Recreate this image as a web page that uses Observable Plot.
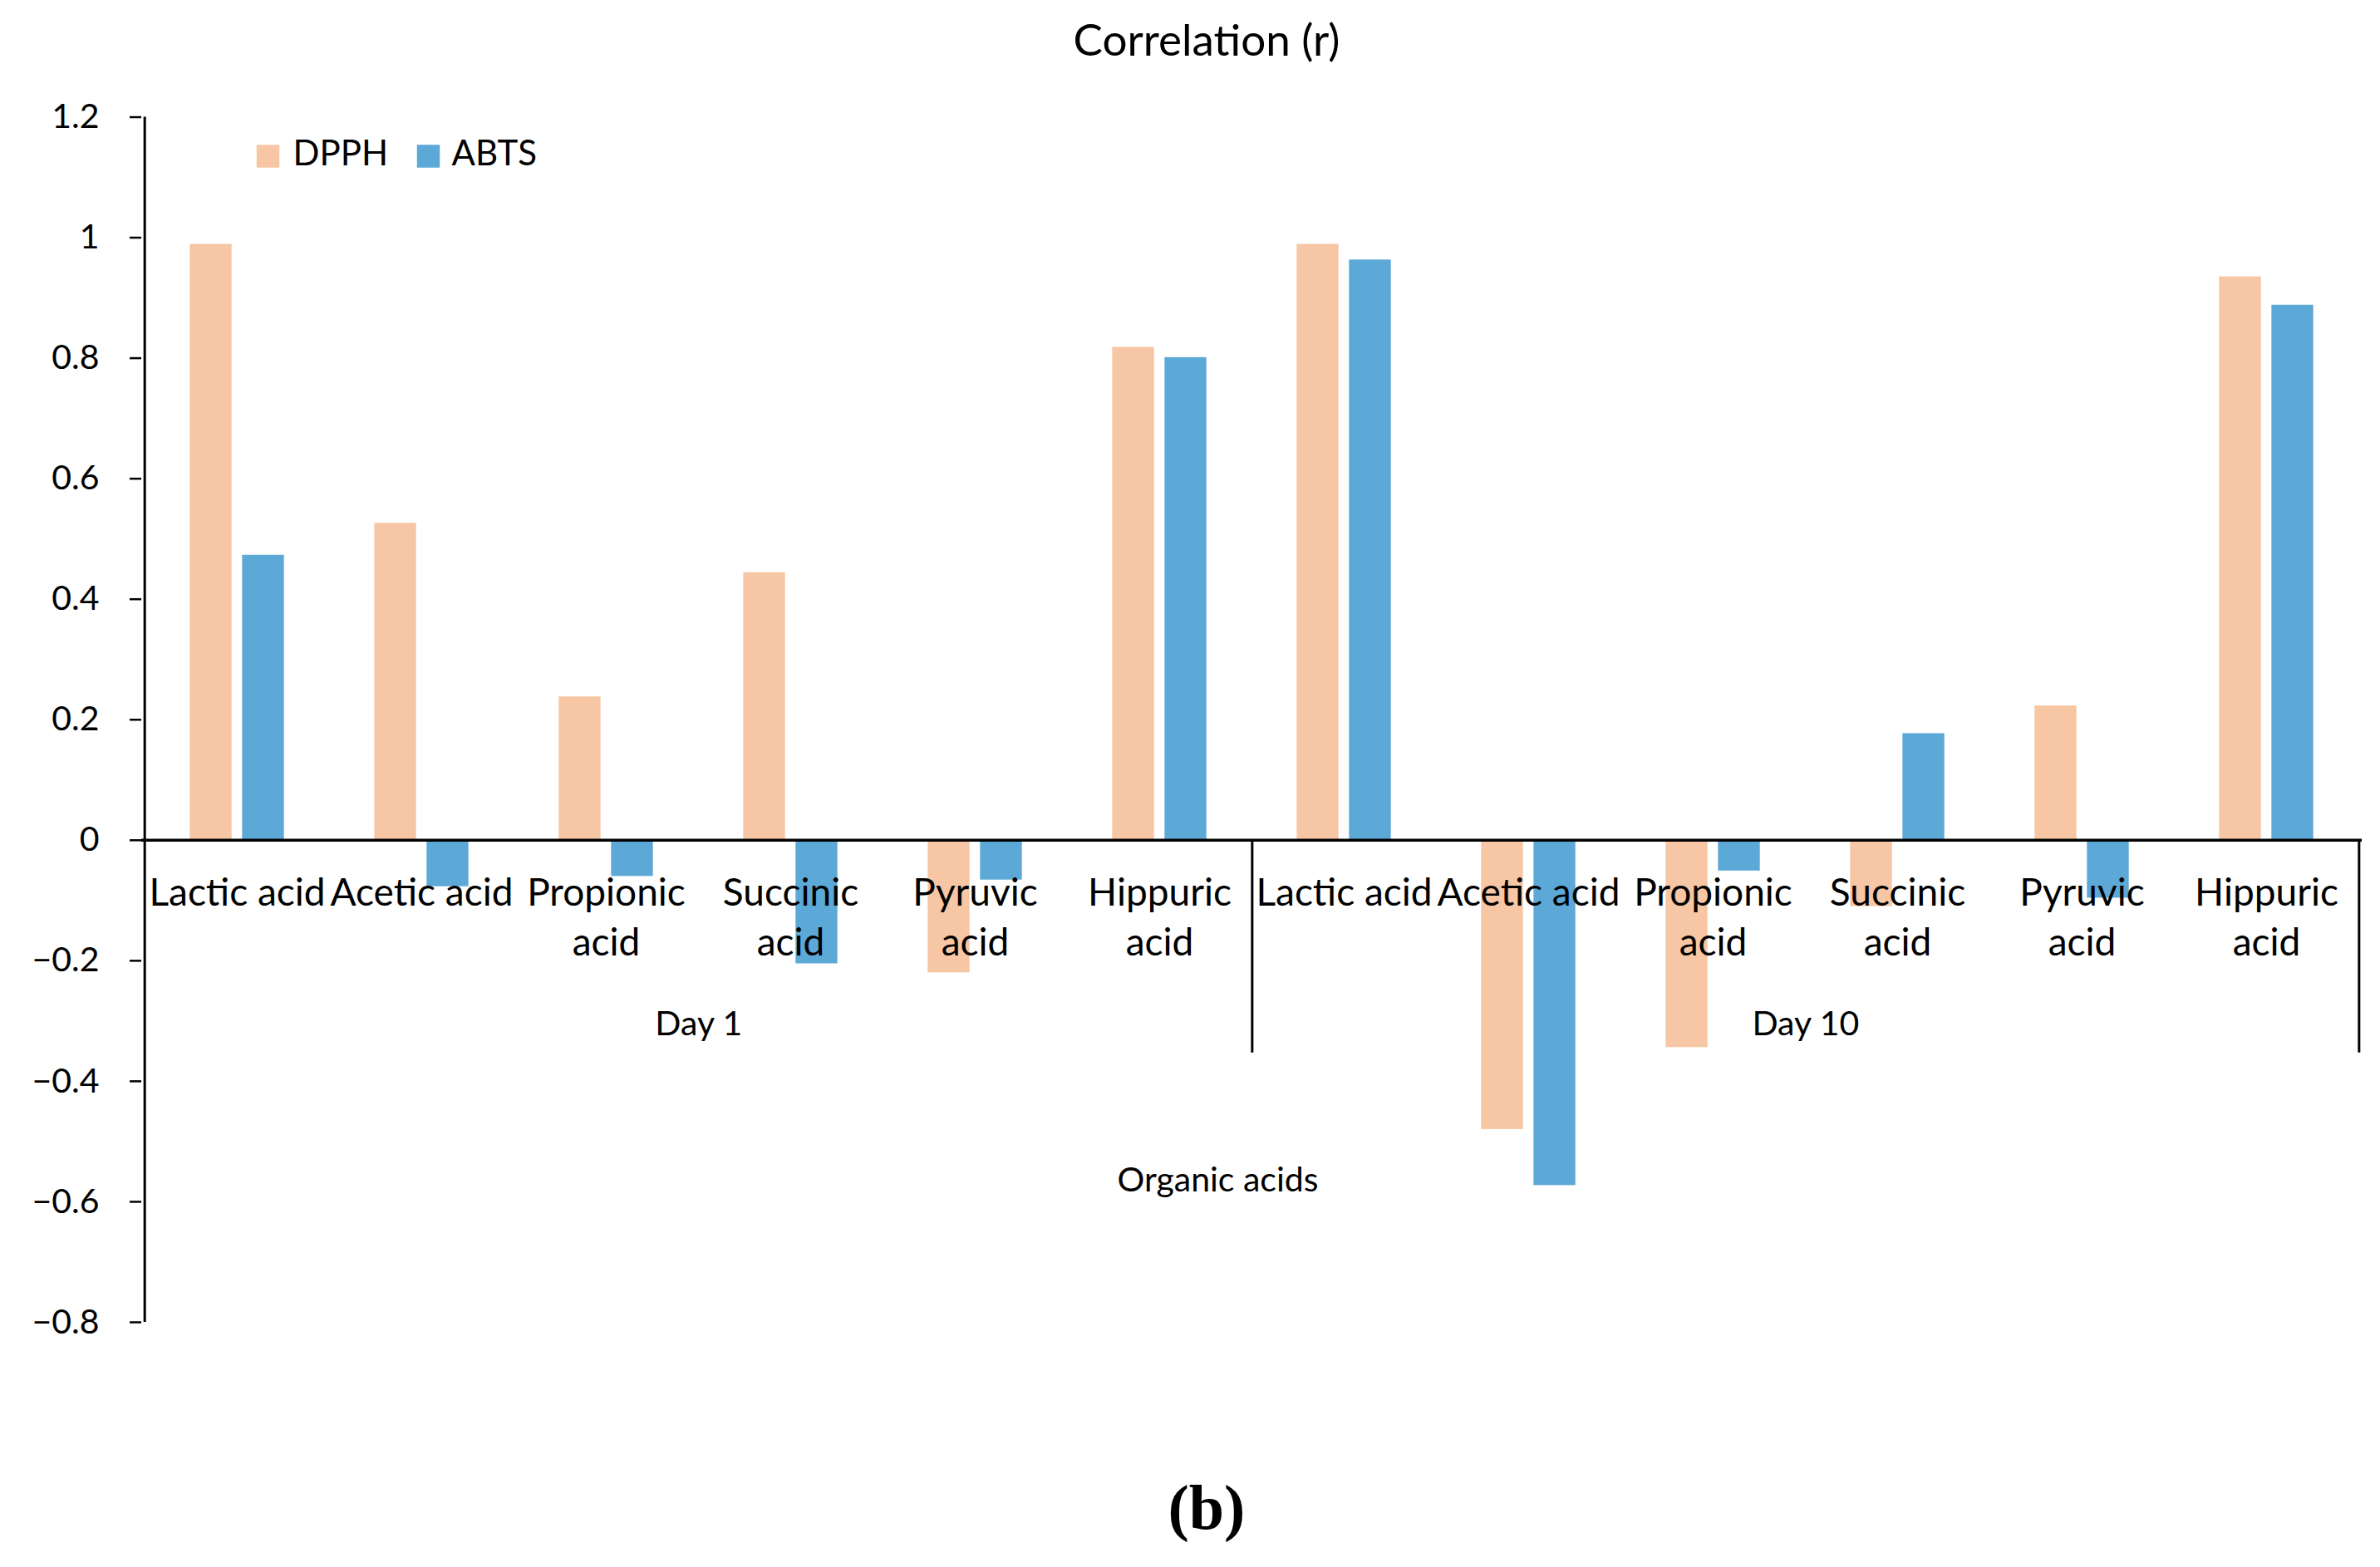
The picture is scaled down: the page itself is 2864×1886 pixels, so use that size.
<!DOCTYPE html>
<html>
<head>
<meta charset="utf-8">
<script src="https://cdn.jsdelivr.net/npm/d3@7"></script>
<script src="https://cdn.jsdelivr.net/npm/@observablehq/plot@0.6"></script>
<style>
  html, body { margin: 0; padding: 0; background: #fff; }
  body { width: 2864px; height: 1886px; overflow: hidden; font-family: Lato, sans-serif; }
  #title { height: 100px; line-height: 93px; text-align: center; padding-left: 40px; box-sizing: border-box;
           font-size: 53px; color: #000; }
  #caption { height: 106px; line-height: 69px; text-align: center; padding-left: 40px; box-sizing: border-box;
             font-family: "Liberation Serif", "DejaVu Serif", serif; font-weight: bold; font-size: 76px; color: #000; }
  #chart svg { display: block; }
</style>
</head>
<body>
<div id="title">Correlation (r)</div>
<div id="chart"></div>
<div id="caption">(b)</div>
<script>
// ---- data ----
const days = ["Day 1", "Day 10"];
const acids = ["Lactic acid", "Acetic acid", "Propionic acid", "Succinic acid", "Pyruvic acid", "Hippuric acid"];
const acidLabels = ["Lactic acid", "Acetic acid", "Propionic\nacid", "Succinic\nacid", "Pyruvic\nacid", "Hippuric\nacid"];
const series = ["DPPH", "ABTS"];
const dpph = [0.989, 0.526, 0.238, 0.444, -0.220, 0.818, 0.989, -0.480, -0.344, -0.110, 0.223, 0.935];
const abts = [0.473, -0.077, -0.060, -0.205, -0.066, 0.801, 0.963, -0.573, -0.051, 0.177, -0.096, 0.888];
const yTicks = [-0.8, -0.6, -0.4, -0.2, 0, 0.2, 0.4, 0.6, 0.8, 1, 1.2];
const xTitle = "Organic acids";

// ---- table built from the arrays ----
const rows = [];
days.forEach((day, d) => acids.forEach((acid, a) => {
  const i = d * acids.length + a;
  rows.push({key: day + "|" + acid, day, acid, label: acidLabels[a], DPPH: dpph[i], ABTS: abts[i]});
}));
const keys = rows.map(r => r.key);
const groups = days.map((day, d) => ({
  day,
  midKey: keys[d * acids.length + acids.length / 2 - 1],
  lastKey: keys[d * acids.length + acids.length - 1]
}));

// ---- layout / style ----
const W = 2864, H = 1680;
const mL = 170, mR = 22, mT = 40.5, mB = 189;
const bw = (W - mL - mR) / keys.length;   // band width
const barW = 51, barGap = 12;
const edge = (bw - 2 * barW - barGap) / 2;
const colors = ["#F7C6A4", "#5CA8D7"];
const fmt = d => (d < 0 ? "\u2212" : "") + Math.abs(d);

const legendSwatchDx = [152, 345];
const legendTextDx = [182, 373];

const marks = [
  Plot.barY(rows, {x: "key", y: "DPPH", fill: colors[0], insetLeft: edge, insetRight: bw - edge - barW}),
  Plot.barY(rows, {x: "key", y: "ABTS", fill: colors[1], insetLeft: edge + barW + barGap, insetRight: edge}),
  Plot.ruleY([0], {stroke: "#000", strokeWidth: 3.5}),
  Plot.ruleX([keys[0]], {dx: -bw / 2, y1: yTicks[0], y2: yTicks[yTicks.length - 1], stroke: "#000", strokeWidth: 3}),
  Plot.ruleX(groups, {x: "lastKey", dx: bw / 2, y1: 0, y2: 0, insetBottom: -256, stroke: "#000", strokeWidth: 3}),
  Plot.axisY(yTicks, {tickSize: 14, tickPadding: 37, tickFormat: fmt, fontSize: 41, strokeWidth: 2.5, label: null}),
  Plot.text(rows, {x: "key", y: 0, text: "label", dy: 36, lineAnchor: "top", lineHeight: 1.3, fontSize: 46, fill: "#000"}),
  Plot.text(groups, {x: "midKey", dx: bw / 2, y: 0, text: "day", dy: 206, lineAnchor: "top", fontSize: 41, fill: "#000"}),
  Plot.text([xTitle], {frameAnchor: "bottom", dx: -41, dy: -158, lineAnchor: "bottom", fontSize: 41, fill: "#000"})
];
series.forEach((s, i) => {
  marks.push(Plot.dot([s], {frameAnchor: "top-left", dx: legendSwatchDx[i], dy: 47, symbol: "square", r: 15.5, fill: colors[i], stroke: null}));
  marks.push(Plot.text([s], {frameAnchor: "top-left", dx: legendTextDx[i], dy: 45, text: d => d, textAnchor: "start", lineAnchor: "middle", fontSize: 42, fill: "#000"}));
});

const chart = Plot.plot({
  width: W, height: H,
  marginLeft: mL, marginRight: mR, marginTop: mT, marginBottom: mB,
  style: {fontFamily: "Lato, sans-serif", background: "#fff", color: "#000", overflow: "visible"},
  x: {type: "band", domain: keys, padding: 0, axis: null},
  y: {domain: [yTicks[0], yTicks[yTicks.length - 1]], axis: null},
  marks
});
document.getElementById("chart").appendChild(chart);
</script>
</body>
</html>
